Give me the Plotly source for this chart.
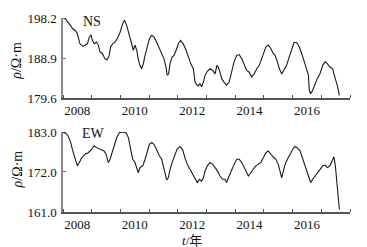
import plotly.graph_objects as go

# NS component (year, apparent resistivity)
ns_t = [2008.00, 2008.07, 2008.15, 2008.24, 2008.34, 2008.42, 2008.48, 2008.53, 2008.59, 2008.69,
        2008.77, 2008.85, 2008.92, 2008.98, 2009.02, 2009.09, 2009.17, 2009.23, 2009.29, 2009.38,
        2009.46, 2009.54, 2009.61, 2009.66, 2009.73, 2009.81, 2009.89, 2009.99, 2010.08, 2010.14,
        2010.22, 2010.31, 2010.39, 2010.45, 2010.51, 2010.57, 2010.62, 2010.68, 2010.74, 2010.80,
        2010.86, 2010.94, 2011.01, 2011.09, 2011.17, 2011.26, 2011.36, 2011.44, 2011.52, 2011.59,
        2011.63, 2011.68, 2011.73, 2011.80, 2011.87, 2011.94, 2012.02, 2012.10, 2012.19, 2012.29,
        2012.37, 2012.45, 2012.54, 2012.60, 2012.66, 2012.71, 2012.77, 2012.83, 2012.89, 2012.95,
        2013.03, 2013.12, 2013.22, 2013.30, 2013.36, 2013.41, 2013.47, 2013.53, 2013.61, 2013.70,
        2013.79, 2013.88, 2013.96, 2014.05, 2014.14, 2014.23, 2014.31, 2014.40, 2014.49, 2014.57,
        2014.66, 2014.75, 2014.84, 2014.92, 2015.00, 2015.07, 2015.15, 2015.24, 2015.33, 2015.39,
        2015.47, 2015.54, 2015.62, 2015.70, 2015.79, 2015.88, 2015.97, 2016.05, 2016.14, 2016.23,
        2016.32, 2016.40, 2016.49, 2016.55, 2016.58, 2016.63, 2016.70, 2016.78, 2016.86, 2016.95,
        2017.05, 2017.13, 2017.21, 2017.30, 2017.40, 2017.44, 2017.51, 2017.57, 2017.63]
ns_v = [198.2, 198.1, 197.4, 196.5, 195.7, 195.3, 194.8, 193.8, 192.2, 191.6,
        191.9, 192.2, 193.8, 194.3, 193.0, 192.2, 192.6, 191.9, 190.3, 189.9,
        188.7, 188.5, 189.5, 191.5, 192.2, 192.6, 193.4, 194.9, 196.9, 197.7,
        196.5, 194.2, 191.9, 190.7, 191.9, 190.7, 188.7, 187.2, 186.4, 187.6,
        189.5, 191.9, 193.4, 194.2, 193.8, 192.6, 191.1, 189.9, 188.7, 186.8,
        184.9, 185.2, 187.6, 189.1, 189.5, 190.7, 192.2, 193.0, 192.2, 190.7,
        189.1, 187.6, 186.4, 183.3, 182.7, 182.4, 182.9, 182.2, 183.3, 184.9,
        185.8, 186.4, 186.0, 185.2, 187.2, 186.8, 185.6, 184.1, 183.3, 182.6,
        183.3, 185.6, 188.0, 189.5, 189.7, 188.7, 187.2, 186.0, 185.6, 184.5,
        185.2, 186.4, 187.2, 188.7, 190.3, 191.5, 191.9, 191.1, 189.9, 189.5,
        188.0, 186.4, 185.2, 186.0, 187.2, 189.1, 191.1, 192.5, 192.5, 191.5,
        189.9, 188.0, 186.0, 184.9, 181.4, 180.6, 181.4, 182.9, 184.1, 185.2,
        187.2, 188.0, 187.6, 186.8, 186.4, 185.2, 183.7, 182.2, 180.2]

# EW component
ew_t = [2008.00, 2008.07, 2008.18, 2008.27, 2008.34, 2008.42, 2008.50, 2008.57, 2008.65, 2008.77,
        2008.88, 2009.00, 2009.08, 2009.17, 2009.26, 2009.35, 2009.43, 2009.50, 2009.58, 2009.64,
        2009.70, 2009.78, 2009.87, 2009.96, 2010.08, 2010.20, 2010.28, 2010.36, 2010.43, 2010.51,
        2010.57, 2010.62, 2010.68, 2010.78, 2010.86, 2010.94, 2011.01, 2011.09, 2011.17, 2011.26,
        2011.36, 2011.44, 2011.49, 2011.56, 2011.61, 2011.67, 2011.73, 2011.82, 2011.90, 2011.98,
        2012.08, 2012.17, 2012.25, 2012.33, 2012.43, 2012.52, 2012.60, 2012.68, 2012.75, 2012.83,
        2012.89, 2012.95, 2013.03, 2013.12, 2013.22, 2013.30, 2013.38, 2013.47, 2013.56, 2013.64,
        2013.70, 2013.79, 2013.88, 2013.96, 2014.05, 2014.14, 2014.23, 2014.31, 2014.40, 2014.46,
        2014.54, 2014.63, 2014.72, 2014.80, 2014.89, 2014.98, 2015.07, 2015.15, 2015.24, 2015.35,
        2015.42, 2015.50, 2015.56, 2015.62, 2015.68, 2015.74, 2015.82, 2015.91, 2016.00, 2016.08,
        2016.16, 2016.26, 2016.32, 2016.37, 2016.47, 2016.51, 2016.58, 2016.63, 2016.70, 2016.78,
        2016.86, 2016.95, 2017.05, 2017.13, 2017.21, 2017.30, 2017.37, 2017.44, 2017.49, 2017.54,
        2017.58, 2017.63]
ew_v = [182.8, 182.9, 181.9, 180.1, 177.8, 175.9, 173.7, 174.6, 175.9, 176.9,
        177.3, 178.2, 179.2, 178.7, 178.4, 178.1, 177.8, 176.9, 174.6, 175.5,
        176.9, 179.2, 181.4, 182.8, 183.0, 182.8, 181.4, 178.2, 175.5, 174.6,
        172.7, 171.8, 173.2, 173.7, 175.5, 177.8, 179.6, 180.1, 179.6, 178.2,
        176.4, 175.5, 173.7, 171.4, 169.8, 170.4, 172.7, 175.0, 176.9, 178.4,
        179.0, 178.1, 175.9, 174.1, 172.7, 171.4, 170.0, 169.1, 170.0, 169.5,
        170.4, 172.3, 173.7, 174.6, 174.1, 173.2, 172.3, 170.9, 170.0, 170.0,
        169.1, 170.9, 172.7, 174.1, 175.5, 175.5, 174.6, 173.2, 171.8, 170.9,
        171.8, 172.7, 173.7, 174.1, 174.6, 175.9, 177.3, 177.8, 176.9, 175.9,
        175.5, 174.1, 172.3, 170.4, 172.3, 174.1, 175.5, 176.9, 178.2, 179.0,
        178.7, 177.8, 176.4, 175.0, 173.2, 171.8, 170.0, 169.1, 170.0, 170.9,
        171.8, 172.7, 173.7, 173.9, 173.2, 173.7, 175.0, 176.2, 173.7, 170.0,
        167.2, 161.7]

ns_ticks = [179.6, 188.9, 198.2]
ew_ticks = [161.0, 172.0, 183.0]
year_label_pos = [2008.5, 2010.5, 2012.5, 2014.5, 2016.5]
year_labels = ["2008", "2010", "2012", "2014", "2016"]
year_bounds = list(range(2008, 2019))

FONT = "Liberation Serif, Times New Roman, DejaVu Serif, serif"
LINE = "#1a1a1a"

fig = go.Figure()
fig.add_trace(go.Scatter(x=ns_t, y=ns_v, mode="lines", line=dict(color=LINE, width=1.1),
                         xaxis="x", yaxis="y", showlegend=False))
fig.add_trace(go.Scatter(x=ew_t, y=ew_v, mode="lines", line=dict(color=LINE, width=1.1),
                         xaxis="x2", yaxis="y2", showlegend=False))

xcommon = dict(range=[2008, 2018], tickmode="array", tickvals=year_label_pos, ticktext=year_labels,
               ticks="", showgrid=False, zeroline=False, showline=True, linecolor="#555",
               linewidth=1.5, tickfont=dict(family=FONT, size=13, color="#111"),
               minor=dict(tickmode="array", tickvals=year_bounds, ticks="inside", ticklen=3,
                          tickwidth=1, tickcolor="#555", showgrid=False))
ycommon = dict(tickmode="array", ticks="inside", ticklen=3, tickcolor="#777", showgrid=False,
               zeroline=False, showline=True, linecolor="#888", linewidth=1.5,
               tickfont=dict(family=FONT, size=13, color="#111"), ticklabelstandoff=2)

fig.update_layout(
    width=367, height=247,
    margin=dict(l=63, r=17, t=18, b=35),
    paper_bgcolor="white", plot_bgcolor="white",
    xaxis=dict(domain=[0, 1], anchor="y", **xcommon),
    xaxis2=dict(domain=[0, 1], anchor="y2", **xcommon),
    yaxis=dict(domain=[0.5876, 1], anchor="x", range=[179.6, 198.2], tickvals=ns_ticks,
               ticktext=[f"{v:.1f}" for v in ns_ticks], **ycommon),
    yaxis2=dict(domain=[0, 0.4124], anchor="x2", range=[161.0, 183.0], tickvals=ew_ticks,
                ticktext=[f"{v:.1f}" for v in ew_ticks], **ycommon),
)

ytitle = "<i>ρ</i>/Ω·m"
fig.add_annotation(text=ytitle, xref="paper", yref="paper", x=-0.16, y=0.78, xanchor="center",
                   yanchor="middle", textangle=-90, showarrow=False,
                   font=dict(family=FONT, size=14, color="#111"))
fig.add_annotation(text=ytitle, xref="paper", yref="paper", x=-0.16, y=0.22, xanchor="center",
                   yanchor="middle", textangle=-90, showarrow=False,
                   font=dict(family=FONT, size=14, color="#111"))
fig.add_annotation(text="NS", xref="x", yref="paper", x=2009.0, y=0.982, xanchor="center",
                   yanchor="middle", showarrow=False, font=dict(family=FONT, size=14, color="#111"))
fig.add_annotation(text="EW", xref="x2", yref="paper", x=2009.05, y=0.405, xanchor="center",
                   yanchor="middle", showarrow=False, font=dict(family=FONT, size=14, color="#111"))
fig.add_annotation(text="<i>t</i>/年", xref="x2", yref="paper", x=2012.5, y=-0.1,
                   xanchor="center", yanchor="top", showarrow=False,
                   font=dict(family="Liberation Serif, Noto Sans CJK SC", size=13, color="#111"))

fig.write_html("out.html", config={"displayModeBar": False},
               post_script="document.body.style.margin='0';document.body.style.padding='0';")
